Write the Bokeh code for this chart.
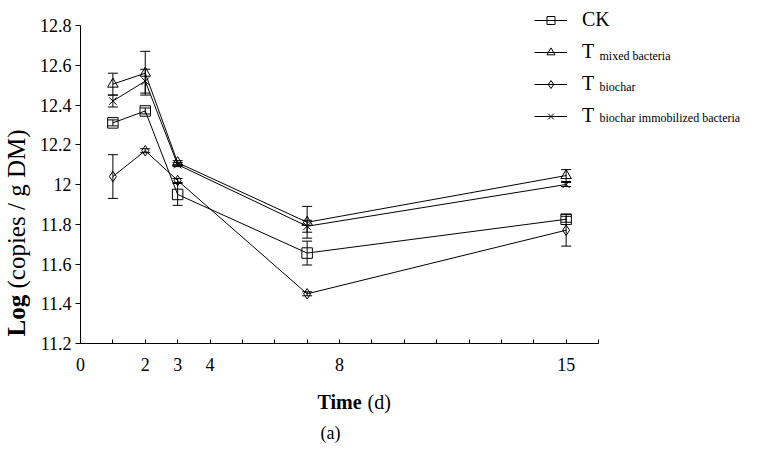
import math
from bokeh.plotting import figure
from bokeh.models import (Range1d, FixedTicker, Whisker, ColumnDataSource, Legend,
                          LegendItem, Label, TeeHead)
from bokeh.embed import file_html
from bokeh.resources import INLINE

# ---------------- data ----------------
days = [1, 2, 3, 7, 15]
legend_main = ["CK", "T", "T", "T"]
legend_sub = ["", "mixed bacteria", "biochar", "biochar immobilized bacteria"]
ck = [12.31, 12.37, 11.95, 11.655, 11.825]
ck_err = [0.015, 0.015, 0.055, 0.06, 0.015]
mixed = [12.505, 12.56, 12.11, 11.81, 12.045]
mixed_err = [0.055, 0.11, 0.01, 0.08, 0.03]
biochar = [12.04, 12.17, 12.02, 11.45, 11.77]
biochar_err = [0.11, 0.01, 0.01, 0.01, 0.08]
immob = [12.42, 12.52, 12.10, 11.79, 12.00]
immob_err = [0.03, 0.06, 0.01, 0.03, 0.01]
markers = ["square", "triangle", "diamond", "x"]

x_ticks = list(range(0, 17))
x_tick_labels = {0: "0", 2: "2", 3: "3", 4: "4", 8: "8", 15: "15"}
y_ticks = [11.2, 11.4, 11.6, 11.8, 12.0, 12.2, 12.4, 12.6, 12.8]
y_tick_labels = ["11.2", "11.4", "11.6", "11.8", "12", "12.2", "12.4", "12.6", "12.8"]

# ---------------- layout (figure pixels) ----------------
W, H = 746, 444
AX_L = 80        # y axis line position
AX_B = 343       # x axis line position (from top)
X_AXIS_END = 598
Y_AXIS_TOP = 25
PXX = (X_AXIS_END - AX_L) / 16.0
PXY = (AX_B - Y_AXIS_TOP) / 1.6
x_start = -AX_L / PXX
x_end = (W - AX_L) / PXX
y_start = 11.2 - (H - AX_B) / PXY
y_end = 11.2 + AX_B / PXY

def X(px):  # figure px -> data x
    return (px - AX_L) / PXX

def Y(py):  # figure px (from top) -> data y
    return 11.2 + (AX_B - py) / PXY

FONT = "Liberation Serif"

p = figure(width=W, height=H, x_range=Range1d(x_start, x_end),
           y_range=Range1d(y_start, y_end),
           output_backend="svg", toolbar_location=None,
           min_border_left=0, min_border_right=0, min_border_top=0,
           min_border_bottom=0)
p.outline_line_color = None
p.xgrid.visible = False
p.ygrid.visible = False
p.background_fill_color = "white"
p.border_fill_color = "white"

# x axis
xa = p.xaxis[0]
xa.fixed_location = 11.2
xa.bounds = (0, 16)
xa.ticker = FixedTicker(ticks=x_ticks)
xa.major_label_overrides = {t: x_tick_labels.get(t, "") for t in x_ticks}
xa.major_tick_in = 4
xa.major_tick_out = 0
xa.minor_tick_line_color = None
xa.axis_line_color = "black"
xa.major_tick_line_color = "black"
xa.major_label_text_font = FONT
xa.major_label_text_font_size = "18px"
xa.major_label_text_color = "black"
xa.major_label_standoff = 14

# y axis
ya = p.yaxis[0]
ya.fixed_location = 0
ya.bounds = (11.2, 12.8)
ya.ticker = FixedTicker(ticks=y_ticks)
ya.major_label_overrides = dict(zip(y_ticks, y_tick_labels))
ya.major_tick_in = 0
ya.major_tick_out = 5
ya.minor_tick_line_color = None
ya.axis_line_color = "black"
ya.major_tick_line_color = "black"
ya.major_label_text_font = FONT
ya.major_label_text_font_size = "18px"
ya.major_label_text_color = "black"
ya.major_label_standoff = 4

series = [ck, mixed, biochar, immob]
errs = [ck_err, mixed_err, biochar_err, immob_err]
items = []
for vals, err, mk, name in zip(series, errs, markers, legend_main):
    src = ColumnDataSource(dict(x=days, y=vals,
                                lo=[v - e for v, e in zip(vals, err)],
                                hi=[v + e for v, e in zip(vals, err)]))
    w = Whisker(base="x", lower="lo", upper="hi", source=src, line_color="black", line_width=1,
                upper_head=TeeHead(size=10, line_color="black", line_width=1),
                lower_head=TeeHead(size=10, line_color="black", line_width=1))
    p.add_layout(w)
    lr = p.line("x", "y", source=src, line_color="black", line_width=1)
    sr = p.scatter("x", "y", source=src, marker=mk, size=10.5, line_color="black",
                   fill_color=None, line_width=1)
    items.append(LegendItem(label=name, renderers=[lr, sr]))

legend = Legend(items=items, location=(534, 317), padding=0, margin=0,
                border_line_color=None, background_fill_alpha=0,
                glyph_width=33, glyph_height=20, label_height=20, spacing=9,
                label_standoff=15, label_text_font=FONT, label_text_font_size="20px",
                label_text_color="black")
p.add_layout(legend)

# legend subscripts
sub_y = [20, 51, 82, 113]
for sub, cy in zip(legend_sub, sub_y):
    if sub:
        p.add_layout(Label(x=X(599), y=Y(cy + 4), text=sub, text_font=FONT,
                           text_font_size="12px", text_color="black",
                           text_baseline="alphabetic", text_align="left"))

# y axis title (bold "Log" + normal rest)
p.add_layout(Label(x=X(16), y=Y(336), text="Log", angle=math.pi / 2, text_font=FONT,
                   text_font_style="bold", text_font_size="25px", text_color="black",
                   text_baseline="middle", text_align="left"))
p.add_layout(Label(x=X(16), y=Y(336 - 48), text="(copies / g DM)", angle=math.pi / 2,
                   text_font=FONT, text_font_size="25px", text_color="black",
                   text_baseline="middle", text_align="left"))

# x axis title
p.add_layout(Label(x=X(317), y=Y(401), text="Time", text_font=FONT, text_font_style="bold",
                   text_font_size="20px", text_color="black", text_baseline="alphabetic",
                   text_align="left"))
p.add_layout(Label(x=X(367), y=Y(401), text="(d)", text_font=FONT,
                   text_font_size="20px", text_color="black", text_baseline="alphabetic",
                   text_align="left"))
# caption
p.add_layout(Label(x=X(330), y=Y(432), text="(a)", text_font=FONT,
                   text_font_size="18px", text_color="black", text_baseline="alphabetic",
                   text_align="center"))

open("out.html", "w").write(file_html(p, INLINE))
